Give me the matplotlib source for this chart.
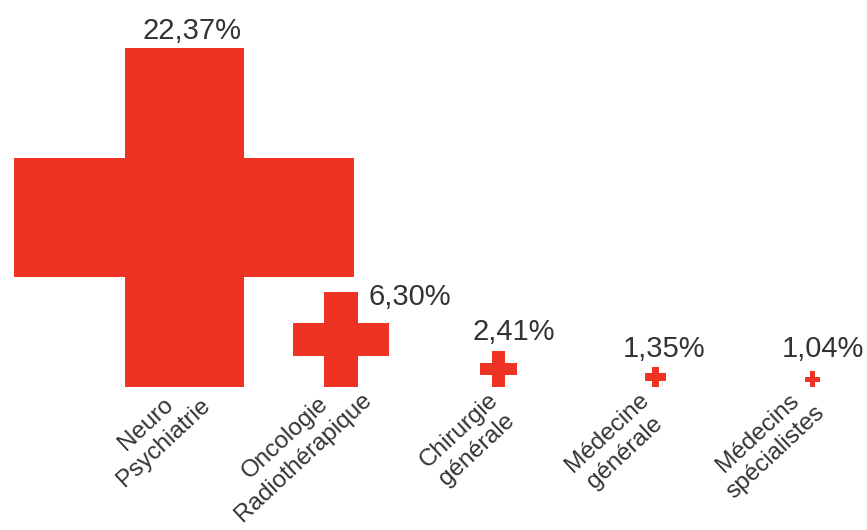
import numpy as np
import matplotlib.pyplot as plt
from matplotlib.patches import Polygon

# Share of each specialty
categories = ['Neuro\nPsychiatrie', 'Oncologie\nRadiothérapique', 'Chirurgie\ngénérale',
              'Médecine\ngénérale', 'Médecins\nspécialistes']
values = [22.37, 6.30, 2.41, 1.35, 1.04]
value_labels = ['22,37%', '6,30%', '2,41%', '1,35%', '1,04%']

red = '#ee3224'
text_color = '#333333'
plt.rcParams['font.family'] = ['Liberation Sans', 'DejaVu Sans']

# pixel offsets: percentage labels from the top of each cross,
# category labels from the foot of each cross
pct_offsets = [(8, 17), (69, -5), (15, 19), (9, 18), (10, 22)]
cat_offsets = [(-2, 12), (2, 18), (-11, -2), (-17, -2), (-16, 5)]

fig = plt.figure(figsize=(8.67, 5.30), dpi=100)
ax = fig.add_axes([0, 0, 1, 1])
ax.set_xlim(-12.1, 44.9)
ax.set_ylim(-9.4, 25.5)
ax.axis('off')

spacing = 10.33
xs = np.arange(len(values)) * spacing


def cross(cx, size, arm=0.35):
    # plus sign sitting on y=0, width and height equal to size
    h = size / 2
    a = size * arm / 2
    cy = h
    pts = [(-a, h), (a, h), (a, a), (h, a), (h, -a), (a, -a),
           (a, -h), (-a, -h), (-a, -a), (-h, -a), (-h, a), (-a, a)]
    return [(cx + px, cy + py) for px, py in pts]


for i, (x, v) in enumerate(zip(xs, values)):
    ax.add_patch(Polygon(cross(x, v), closed=True, facecolor=red, edgecolor='none'))
    ax.annotate(value_labels[i], (x, v), xytext=pct_offsets[i], textcoords='offset pixels',
                ha='center', va='center', fontsize=21, color=text_color)
    ax.annotate(categories[i], (x, 0), xytext=cat_offsets[i], textcoords='offset pixels',
                ha='right', va='top', rotation=43, rotation_mode='anchor',
                multialignment='center', fontsize=17.5, color=text_color,
                linespacing=1.25)

fig.savefig('out.png', dpi=100)
